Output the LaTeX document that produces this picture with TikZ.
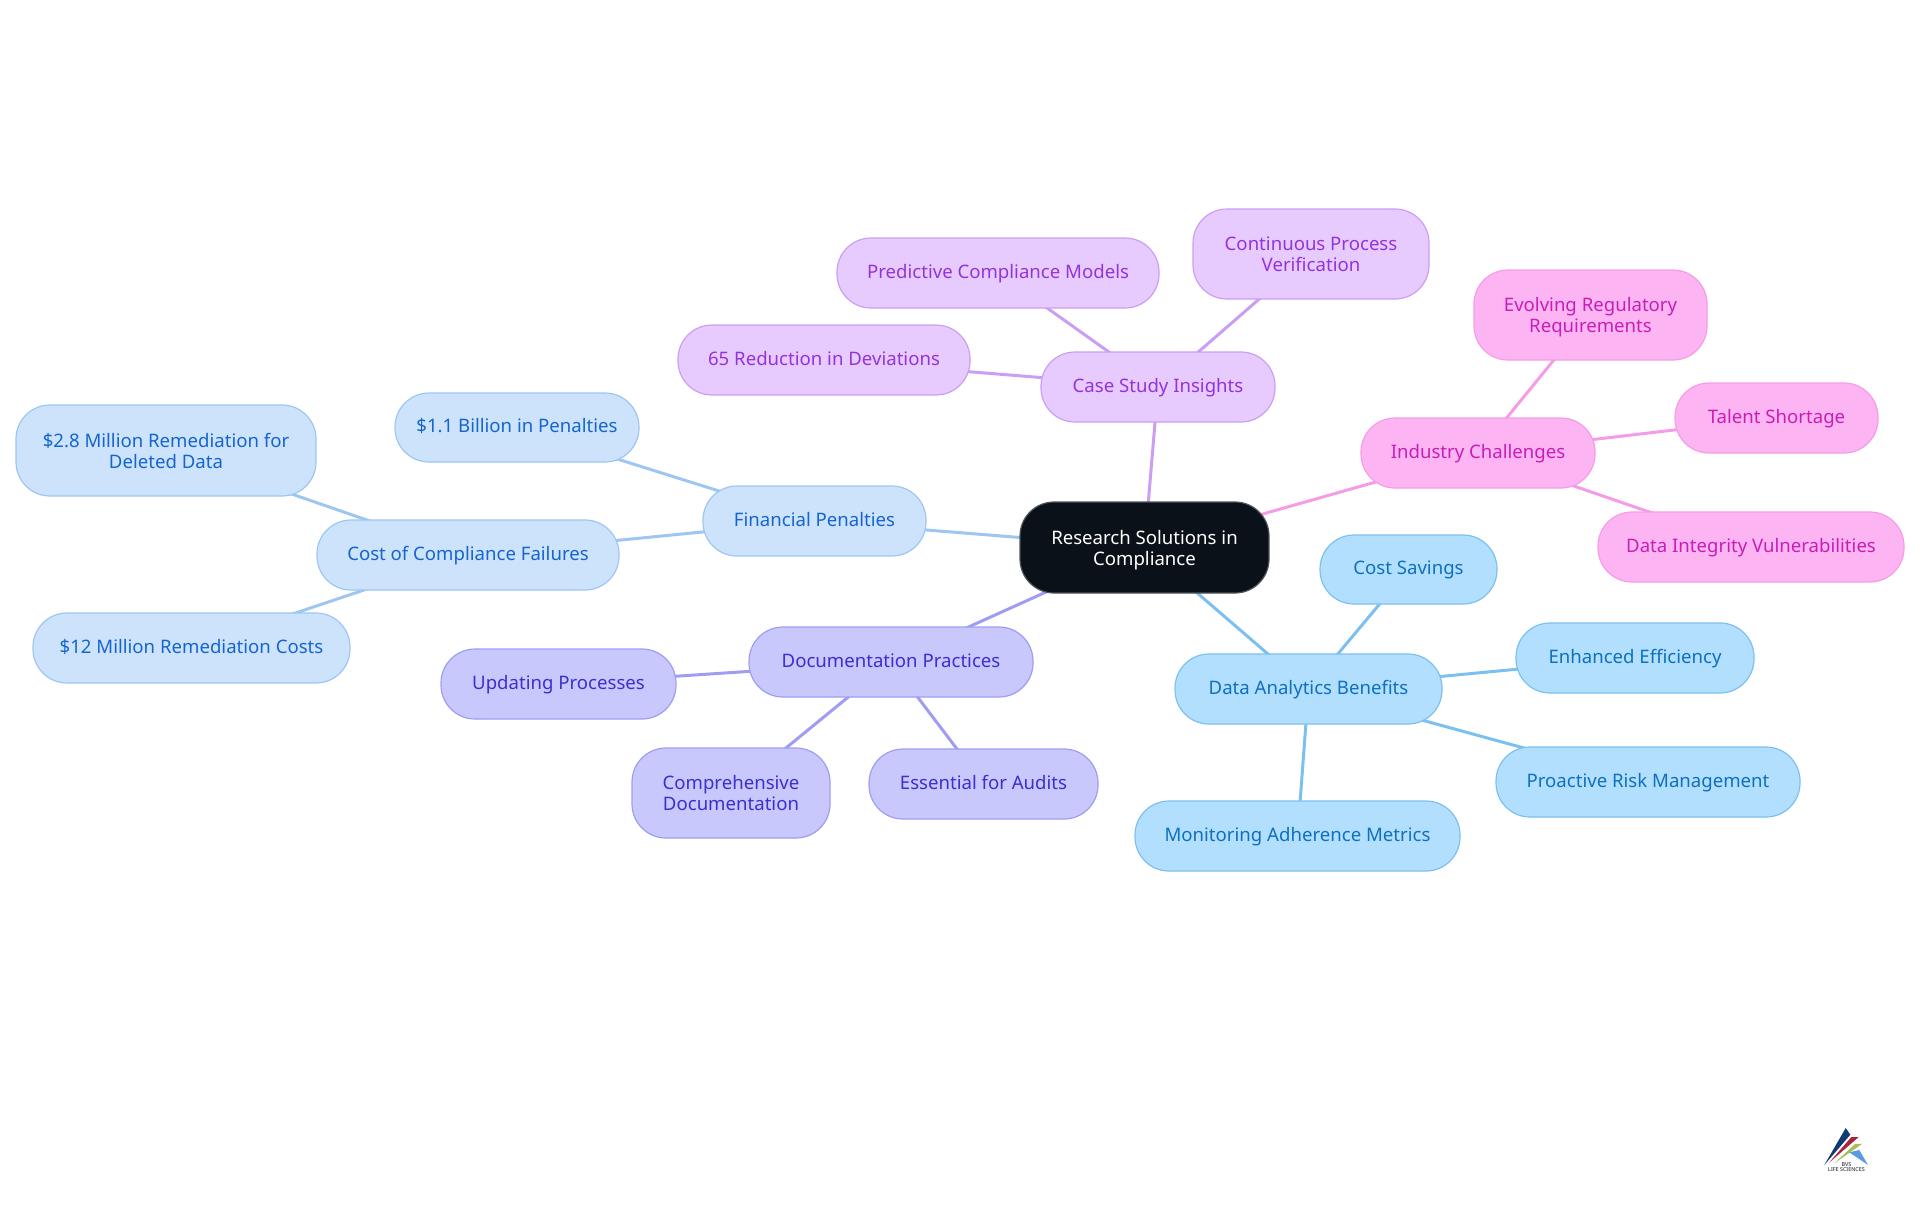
\documentclass[tikz,border=0pt]{standalone}
\usepackage{fontspec}
\setmainfont{Noto Sans}
\usetikzlibrary{backgrounds}

\definecolor{rootfill}{HTML}{0B1119}
\definecolor{rootline}{HTML}{50555B}
\definecolor{bluefill}{HTML}{CDE3FC}
\definecolor{blueline}{HTML}{9DC6F2}
\definecolor{bluetext}{HTML}{1565D0}
\definecolor{indigofill}{HTML}{C8C8FD}
\definecolor{indigoline}{HTML}{9F9DF3}
\definecolor{indigotext}{HTML}{3A30CF}
\definecolor{purplefill}{HTML}{E7CBFE}
\definecolor{purpleline}{HTML}{CB9EF5}
\definecolor{purpletext}{HTML}{9333DD}
\definecolor{pinkfill}{HTML}{FDB4F3}
\definecolor{pinkline}{HTML}{F59CE6}
\definecolor{pinktext}{HTML}{C81EB8}
\definecolor{skyfill}{HTML}{B3DFFE}
\definecolor{skyline}{HTML}{7CC0F0}
\definecolor{skytext}{HTML}{0D70C0}
\definecolor{logonavy}{HTML}{0F3A73}
\definecolor{logored}{HTML}{A8243A}
\definecolor{logogreen}{HTML}{A6BF55}
\definecolor{logoblue}{HTML}{5B9BDD}

\newcommand{\lift}{\rule{0pt}{9.6pt}}

\tikzset{
	mapnode/.style={draw,rectangle,rounded corners=17pt,align=center,inner sep=0pt,line width=0.6pt,font=\fontsize{9.3}{10.5}\selectfont,execute at begin node={\rule{0pt}{8pt}},execute at end node={\rule[-2.6pt]{0pt}{0pt}}},
	size/.style 2 args={minimum width=#1*0.5pt,minimum height=#2*0.5pt},
	rootnode/.style={mapnode,fill=rootfill,draw=rootline,text=white},
	bluenode/.style={mapnode,fill=bluefill,draw=blueline,text=bluetext},
	indigonode/.style={mapnode,fill=indigofill,draw=indigoline,text=indigotext},
	purplenode/.style={mapnode,fill=purplefill,draw=purpleline,text=purpletext},
	pinknode/.style={mapnode,fill=pinkfill,draw=pinkline,text=pinktext},
	skynode/.style={mapnode,fill=skyfill,draw=skyline,text=skytext},
	link/.style={line width=1.5pt,draw=#1}
}

\begin{document}
\begin{tikzpicture}[x=0.5pt,y=-0.5pt]
	\useasboundingbox (0,0) rectangle (1920,1215);

	\node[rootnode,size={249}{91}] (root) at (1144.5,547.5) {\lift Research Solutions in\\Compliance};

	\node[bluenode,size={223}{70}] (penalties) at (814.5,521) {Financial Penalties};
	\node[bluenode,size={302}{70}] (failures) at (468,555) {Cost of Compliance Failures};
	\node[bluenode,size={300}{91}] (deleted) at (166,450.5) {\lift\$2.8 Million Remediation for\\Deleted Data};
	\node[bluenode,size={244}{69}] (billion) at (517,427.5) {\$1.1 Billion in Penalties};
	\node[bluenode,size={317}{70}] (remediation) at (191.5,648) {\$12 Million Remediation Costs};

	\node[indigonode,size={284}{70}] (documentation) at (891,662) {Documentation Practices};
	\node[indigonode,size={235}{70}] (updating) at (558.5,684) {Updating Processes};
	\node[indigonode,size={198}{90}] (comprehensive) at (731,793) {\lift Comprehensive\\Documentation};
	\node[indigonode,size={229}{70}] (audits) at (983.5,784) {Essential for Audits};

	\node[skynode,size={267}{70}] (analytics) at (1308.5,689) {Data Analytics Benefits};
	\node[skynode,size={177}{69}] (savings) at (1408.5,569.5) {Cost Savings};
	\node[skynode,size={238}{70}] (efficiency) at (1635,658) {Enhanced Efficiency};
	\node[skynode,size={304}{70}] (risk) at (1648,782) {Proactive Risk Management};
	\node[skynode,size={325}{70}] (monitoring) at (1297.5,836) {Monitoring Adherence Metrics};

	\node[pinknode,size={234}{70}] (challenges) at (1478,453) {Industry Challenges};
	\node[pinknode,size={233}{90}] (regulatory) at (1590.5,315) {\lift Evolving Regulatory\\Requirements};
	\node[pinknode,size={203}{70}] (talent) at (1776.5,418) {Talent Shortage};
	\node[pinknode,size={306}{70}] (integrity) at (1751,547) {Data Integrity Vulnerabilities};

	\node[purplenode,size={234}{70}] (casestudy) at (1158,387) {Case Study Insights};
	\node[purplenode,size={322}{70}] (predictive) at (998,273) {Predictive Compliance Models};
	\node[purplenode,size={236}{90}] (verification) at (1311,254) {\lift Continuous Process\\Verification};
	\node[purplenode,size={292}{70}] (deviations) at (824,360) {65 Reduction in Deviations};

	\begin{pgfonlayer}{background}
		\draw[link=blueline] (root.center) -- (penalties.center);
		\draw[link=blueline] (penalties.center) -- (failures.center);
		\draw[link=blueline] (penalties.center) -- (billion.center);
		\draw[link=blueline] (failures.center) -- (deleted.center);
		\draw[link=blueline] (failures.center) -- (remediation.center);

		\draw[link=indigoline] (root.center) -- (documentation.center);
		\draw[link=indigoline] (documentation.center) -- (updating.center);
		\draw[link=indigoline] (documentation.center) -- (comprehensive.center);
		\draw[link=indigoline] (documentation.center) -- (audits.center);

		\draw[link=skyline] (root.center) -- (analytics.center);
		\draw[link=skyline] (analytics.center) -- (savings.center);
		\draw[link=skyline] (analytics.center) -- (efficiency.center);
		\draw[link=skyline] (analytics.center) -- (risk.center);
		\draw[link=skyline] (analytics.center) -- (monitoring.center);

		\draw[link=pinkline] (root.center) -- (challenges.center);
		\draw[link=pinkline] (challenges.center) -- (regulatory.center);
		\draw[link=pinkline] (challenges.center) -- (talent.center);
		\draw[link=pinkline] (challenges.center) -- (integrity.center);

		\draw[link=purpleline] (root.center) -- (casestudy.center);
		\draw[link=purpleline] (casestudy.center) -- (predictive.center);
		\draw[link=purpleline] (casestudy.center) -- (verification.center);
		\draw[link=purpleline] (casestudy.center) -- (deviations.center);
	\end{pgfonlayer}

	\fill[logonavy] (1824.3,1165) -- (1845.7,1128) -- (1850.3,1134.7) -- cycle;
	\fill[logored] (1829,1162.7) -- (1851.3,1137) -- (1858.7,1137) -- cycle;
	\fill[logogreen] (1834.3,1163.3) -- (1855,1144) -- (1862.3,1143.7) -- cycle;
	\fill[logoblue] (1849.3,1152.3) -- (1859.3,1150) -- (1868,1165) -- cycle;
	\node[font=\fontsize{2.7}{2.9}\selectfont,align=center,text=rootfill] (logotext) at (1846.5,1167) {BVS\\LIFE SCIENCES};
\end{tikzpicture}
\end{document}
